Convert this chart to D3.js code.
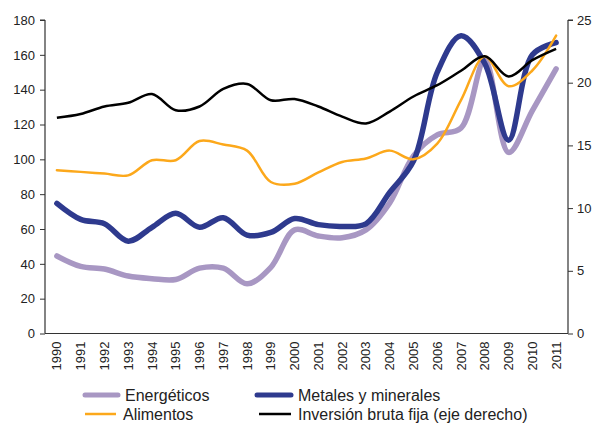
<!DOCTYPE html>
<html>
<head>
<meta charset="utf-8">
<script src="https://cdn.jsdelivr.net/npm/d3@7"></script>
<style>
  html, body { margin: 0; padding: 0; background: #fff; }
  svg text { font-family: "Liberation Sans", Arial, sans-serif; fill: #222; }
</style>
</head>
<body>
<svg id="chart" width="592" height="423"></svg>
<script>
// Years on the horizontal axis
const years = [1990,1991,1992,1993,1994,1995,1996,1997,1998,1999,2000,
               2001,2002,2003,2004,2005,2006,2007,2008,2009,2010,2011];

// Price indices (left axis)
const energeticos = [44.5,38.5,37,33,31.5,31,37.5,37.5,28.5,38,59.5,
                     56,55,59.5,75,102,114,118,157,104,128,152];
const metales     = [74.7,65.5,63,53,61,69,61,66.5,56.5,58,66,
                     62.5,61.5,63,81,99,150,171,155,111,160,167];
const alimentos   = [93.7,92.8,91.8,90.8,99.5,99.5,110.5,108.5,105,87,86,
                     92.5,98.5,100.5,105,100,109,134,159,142,151,171];

// Gross fixed investment (right axis)
const inversion   = [17.2,17.5,18.1,18.4,19.1,17.8,18.1,19.5,19.9,18.6,18.7,
                     18.1,17.3,16.75,17.7,18.9,19.8,20.95,22.1,20.5,21.8,22.7];

const leftTicks  = [0,20,40,60,80,100,120,140,160,180];
const rightTicks = [0,5,10,15,20,25];

const seriesLeft = [
  { name: "Energéticos",         values: energeticos, color: "#a897c3", width: 5.5 },
  { name: "Metales y minerales", values: metales,     color: "#2e3a8e", width: 5.5 },
  { name: "Alimentos",           values: alimentos,   color: "#fca81b", width: 2.5 }
];
const seriesRight = { name: "Inversión bruta fija (eje derecho)", values: inversion, color: "#000000", width: 2.5 };

const svg = d3.select("#chart");
const margin = { left: 45, right: 24, top: 20, bottom: 90 };
const W = 592, H = 423;
const x0 = margin.left, x1 = W - margin.right;   // 45 .. 568
const y0 = 333.5, y1 = 20;

const x = d3.scaleBand().domain(years).range([x0, x1]).padding(0);
const yL = d3.scaleLinear().domain([0, 180]).range([y0, y1]);
const yR = d3.scaleLinear().domain([0, 25]).range([y0, y1]);
const cx = d => x(d) + x.bandwidth() / 2;

const curve = d3.curveCatmullRom.alpha(0.5);

// Lines
const lineL = d3.line().x((d, i) => cx(years[i])).y(d => yL(d)).curve(curve);
const lineR = d3.line().x((d, i) => cx(years[i])).y(d => yR(d)).curve(curve);

seriesLeft.forEach(s => {
  svg.append("path")
    .attr("d", lineL(s.values))
    .attr("fill", "none")
    .attr("stroke", s.color)
    .attr("stroke-width", s.width)
    .attr("stroke-linejoin", "round")
    .attr("stroke-linecap", "round");
});
svg.append("path")
  .attr("d", lineR(seriesRight.values))
  .attr("fill", "none")
  .attr("stroke", seriesRight.color)
  .attr("stroke-width", seriesRight.width)
  .attr("stroke-linejoin", "round");

// Axes
const axisColor = "#333";
const gL = svg.append("g").attr("transform", `translate(${x0},0)`)
  .call(d3.axisLeft(yL).tickValues(leftTicks).tickSize(5).tickPadding(5));
const gR = svg.append("g").attr("transform", `translate(${x1},0)`)
  .call(d3.axisRight(yR).tickValues(rightTicks).tickSize(5).tickPadding(4));
const gX = svg.append("g").attr("transform", `translate(0,${y0})`)
  .call(d3.axisBottom(x).tickSize(0).tickPadding(0));

[gL, gR, gX].forEach(g => {
  g.select(".domain").attr("stroke", axisColor).attr("stroke-width", 1.2);
  g.selectAll(".tick line").attr("stroke", axisColor);
  g.selectAll("text").style("font-size", "13px")
    .style("font-family", "'Liberation Sans', Arial, sans-serif").attr("fill", "#222");
});
gL.select(".domain").attr("d", `M0,${y0}V${y1}M-5,${y1}H0`);
gR.select(".domain").attr("d", `M0,${y0}V${y1}M5,${y1}H0`);
gX.select(".domain").attr("d", `M${x0},0H${x1}`);
gX.selectAll(".tick text")
  .attr("transform", "rotate(-90)")
  .attr("x", -8).attr("y", 0).attr("dy", "0.35em")
  .attr("text-anchor", "end");

// Legend
const legend = [
  { s: seriesLeft[0], lx: 85,  ly: 395, len: 33 },
  { s: seriesLeft[1], lx: 257, ly: 395, len: 34 },
  { s: seriesLeft[2], lx: 85,  ly: 414, len: 31 },
  { s: seriesRight,   lx: 259, ly: 414, len: 32 }
];
legend.forEach(l => {
  svg.append("line")
    .attr("x1", l.lx).attr("x2", l.lx + l.len)
    .attr("y1", l.ly).attr("y2", l.ly)
    .attr("stroke", l.s.color)
    .attr("stroke-width", l.s.width > 3 ? 5 : 2.5)
    .attr("stroke-linecap", l.s.width > 3 ? "round" : "butt");
  svg.append("text")
    .attr("x", l.lx + l.len + 7).attr("y", l.ly).attr("dy", "0.35em")
    .style("font-size", "16px")
    .text(l.s.name);
});
</script>
</body>
</html>
